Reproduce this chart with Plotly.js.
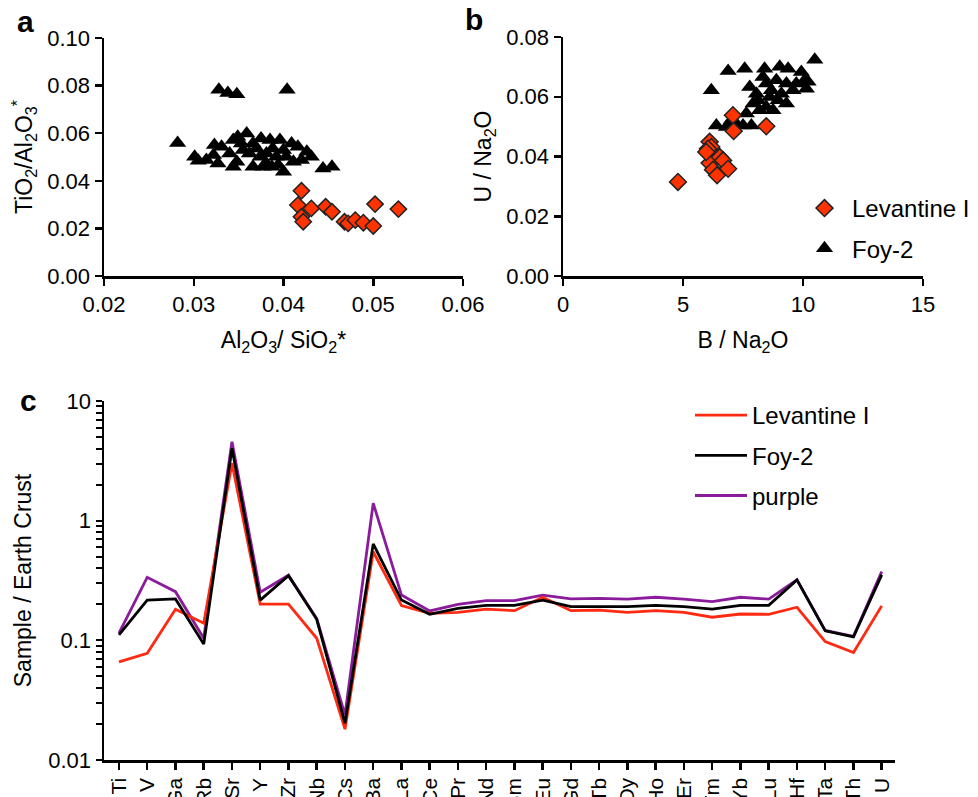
<!DOCTYPE html>
<html>
<head>
<meta charset="utf-8">
<script src="https://cdn.plot.ly/plotly-3.0.1.min.js"></script>
<style>html,body{margin:0;padding:0;background:#fff;}#chart{width:978px;height:797px;}</style>
</head>
<body>
<div id="chart"></div>
<script>
// Panel a: Al2O3/SiO2* vs TiO2/Al2O3*
const levA_x = [0.0420,0.0416,0.0431,0.0420,0.0422,0.0447,0.0454,0.0468,0.0472,0.0480,0.0489,0.0500,0.0502,0.0528];
const levA_y = [0.0358,0.0298,0.0284,0.0249,0.0228,0.0291,0.0270,0.0228,0.0221,0.0235,0.0224,0.0210,0.0302,0.0281];
const foyA_x = [0.0328,0.0338,0.0348,0.0404,0.0282,0.0301,0.0305,0.0323,0.0331,0.0322,0.0327,0.0344,0.0349,0.0359,0.0348,0.0340,0.0366,0.0366,0.0375,0.0377,0.0385,0.0387,0.0396,0.0400,0.0409,0.0416,0.0426,0.0431,0.0420,0.0444,0.0454,0.0362,0.0374,0.0381,0.0392,0.0403,0.0388,0.0355,0.0370,0.0400,0.0411,0.0314,0.0344,0.0353,0.0381,0.0394];
const foyA_y = [0.0783,0.0769,0.0764,0.0783,0.0559,0.0501,0.0484,0.0550,0.0543,0.0508,0.0473,0.0571,0.0585,0.0599,0.0480,0.0515,0.0459,0.0557,0.0578,0.0459,0.0571,0.0459,0.0571,0.0438,0.0557,0.0543,0.0522,0.0501,0.0487,0.0452,0.0459,0.0515,0.0501,0.0515,0.0501,0.0501,0.0536,0.0529,0.0536,0.0529,0.0480,0.0487,0.0459,0.0557,0.0473,0.0466];

// Panel b: B/Na2O vs U/Na2O
const levB_x = [4.79,7.08,7.11,8.47,6.11,6.18,6.04,6.11,6.53,6.67,6.25,6.42,6.88,5.97];
const levB_y = [0.0315,0.0538,0.0485,0.0501,0.0449,0.0432,0.0426,0.0378,0.0398,0.0387,0.0356,0.0337,0.0359,0.0415];
const foyB_x = [6.18,6.88,7.57,10.49,8.40,9.03,9.38,9.93,10.07,10.14,6.39,6.81,7.50,7.85,7.78,8.06,7.92,8.19,8.47,8.61,8.89,8.96,9.31,9.31,9.58,8.47,8.75,7.64,8.33,9.10,7.22,8.13,8.68,9.72,10.21,7.01];
const foyB_y = [0.0622,0.0686,0.0694,0.0724,0.0694,0.0700,0.0694,0.0683,0.0655,0.0627,0.0504,0.0499,0.0504,0.0504,0.0633,0.0610,0.0577,0.0555,0.0644,0.0599,0.0655,0.0588,0.0644,0.0577,0.0622,0.0566,0.0555,0.0544,0.0666,0.0610,0.0510,0.0588,0.0622,0.0644,0.0650,0.0521];

// Panel c: Sample / Earth Crust
const elements = ["Ti","V","Ga","Rb","Sr","Y","Zr","Nb","Cs","Ba","La","Ce","Pr","Nd","Sm","Eu","Gd","Tb","Dy","Ho","Er","Tm","Yb","Lu","Hf","Ta","Th","U"];
const levC = [0.066,0.078,0.182,0.139,3.02,0.201,0.201,0.104,0.0181,0.55,0.195,0.168,0.171,0.182,0.177,0.229,0.177,0.179,0.171,0.177,0.171,0.156,0.166,0.165,0.189,0.0977,0.079,0.194];
const foyC = [0.111,0.217,0.222,0.093,4.03,0.217,0.347,0.150,0.0203,0.64,0.217,0.165,0.185,0.196,0.196,0.217,0.191,0.191,0.191,0.196,0.191,0.182,0.196,0.196,0.32,0.120,0.107,0.352];
const purC = [0.115,0.336,0.255,0.104,4.57,0.252,0.35,0.152,0.0238,1.40,0.239,0.176,0.200,0.215,0.215,0.239,0.222,0.224,0.221,0.229,0.221,0.211,0.229,0.221,0.32,0.121,0.108,0.375];
// log-axis ticks: labelled decades plus unlabelled intermediate ticks
const logTicks = [0.01,0.02,0.03,0.04,0.05,0.06,0.07,0.08,0.09,0.1,0.2,0.3,0.4,0.5,0.6,0.7,0.8,0.9,1,2,3,4,5,6,7,8,9,10];
const logTickText = ["0.01","","","","","","","","","0.1","","","","","","","","","1","","","","","","","","","10"];

const FONT = "Liberation Sans, Arial, Helvetica, sans-serif";
const RED = "#ff3300";
const LINE_RED = "#ff2a12";
const PURPLE = "#8a1c9c";
const W = 978, H = 797;
const fx = p => p / W;
const fy = p => 1 - p / H;

const axisBase = {
  showline: true, linecolor: "black", linewidth: 2.5, mirror: false,
  ticks: "outside", ticklen: 7, tickwidth: 2.5, tickcolor: "black",
  showgrid: false, zeroline: false,
  tickfont: {family: FONT, size: 22, color: "black"}
};
function ax(extra) { return Object.assign(JSON.parse(JSON.stringify(axisBase)), extra); }
const tfont = {family: FONT, size: 23, color: "black"};

const traces = [
  {x: foyA_x, y: foyA_y, type: "scatter", mode: "markers", xaxis: "x", yaxis: "y", marker: {symbol: "triangle-up", size: 15, color: "black"}, showlegend: false, name: "Foy-2"},
  {x: levA_x, y: levA_y, type: "scatter", mode: "markers", xaxis: "x", yaxis: "y", marker: {symbol: "diamond", size: 12.5, color: RED, line: {color: "#222", width: 1.5}}, showlegend: false, name: "Levantine I"},
  {x: foyB_x, y: foyB_y, type: "scatter", mode: "markers", xaxis: "x2", yaxis: "y2", marker: {symbol: "triangle-up", size: 15, color: "black"}, name: "Foy-2", legend: "legend", legendrank: 2, legendgroup: "bf"},
  {x: levB_x, y: levB_y, type: "scatter", mode: "markers", xaxis: "x2", yaxis: "y2", marker: {symbol: "diamond", size: 13, color: RED, line: {color: "#222", width: 1.5}}, name: "Levantine I", legend: "legend", legendrank: 1, legendgroup: "bl"},
  {x: elements, y: purC, type: "scatter", mode: "lines", xaxis: "x3", yaxis: "y3", line: {color: PURPLE, width: 2.8}, name: "purple", legend: "legend2", legendrank: 3, legendgroup: "cp"},
  {x: elements, y: levC, type: "scatter", mode: "lines", xaxis: "x3", yaxis: "y3", line: {color: LINE_RED, width: 2.8}, name: "Levantine I", legend: "legend2", legendrank: 1, legendgroup: "cl"},
  {x: elements, y: foyC, type: "scatter", mode: "lines", xaxis: "x3", yaxis: "y3", line: {color: "black", width: 2.8}, name: "Foy-2", legend: "legend2", legendrank: 2, legendgroup: "cf"}
];

const layout = {
  width: W, height: H,
  margin: {l: 0, r: 0, t: 0, b: 0},
  paper_bgcolor: "white", plot_bgcolor: "white",
  font: {family: FONT, color: "black"},
  showlegend: true,
  xaxis: ax({domain: [fx(104), fx(463)], range: [0.02, 0.06], tickvals: [0.02,0.03,0.04,0.05,0.06], tickformat: ".2f", anchor: "y",
    title: {text: "Al<sub>2</sub>O<sub>3</sub>/ SiO<sub>2</sub>*", standoff: 16, font: tfont}}),
  yaxis: ax({domain: [fy(276), fy(38)], range: [0, 0.10], tickvals: [0,0.02,0.04,0.06,0.08,0.10], tickformat: ".2f", anchor: "x",
    title: {text: "TiO<sub>2</sub>/Al<sub>2</sub>O<sub>3</sub><sup>*</sup>", standoff: 8, font: tfont}}),
  xaxis2: ax({domain: [fx(563), fx(923)], range: [0, 15], tickvals: [0,5,10,15], anchor: "y2",
    title: {text: "B / Na<sub>2</sub>O", standoff: 16, font: tfont}}),
  yaxis2: ax({domain: [fy(276), fy(37)], range: [0, 0.08], tickvals: [0,0.02,0.04,0.06,0.08], tickformat: ".2f", anchor: "x2",
    title: {text: "U / Na<sub>2</sub>O", standoff: 8, font: tfont}}),
  xaxis3: ax({domain: [fx(104), fx(895)], type: "category", range: [-0.53, 27.47], tickangle: -90, anchor: "y3",
    tickfont: {family: FONT, size: 21, color: "black"}}),
  yaxis3: ax({domain: [fy(760), fy(401)], type: "log", range: [-2, 1], tickmode: "array", tickvals: logTicks, ticktext: logTickText, anchor: "x3",
    ticklen: 6, tickwidth: 2,
    title: {text: "Sample / Earth Crust", standoff: 10, font: tfont}}),
  legend: {x: fx(797), y: fy(186), xanchor: "left", yanchor: "top", bgcolor: "rgba(0,0,0,0)",
    font: {family: FONT, size: 24, color: "black"}, tracegroupgap: 6, itemwidth: 45},
  legend2: {x: fx(690), y: fy(393), xanchor: "left", yanchor: "top", bgcolor: "rgba(0,0,0,0)",
    font: {family: FONT, size: 24, color: "black"}, tracegroupgap: 6, itemwidth: 52},
  annotations: [
    {text: "<b>a</b>", x: fx(25), y: fy(21), xref: "paper", yref: "paper", xanchor: "center", yanchor: "middle", showarrow: false, font: {family: FONT, size: 30, color: "black"}},
    {text: "<b>b</b>", x: fx(474), y: fy(19), xref: "paper", yref: "paper", xanchor: "center", yanchor: "middle", showarrow: false, font: {family: FONT, size: 30, color: "black"}},
    {text: "<b>c</b>", x: fx(28), y: fy(400), xref: "paper", yref: "paper", xanchor: "center", yanchor: "middle", showarrow: false, font: {family: FONT, size: 30, color: "black"}}
  ]
};

Plotly.newPlot("chart", traces, layout, {displayModeBar: false, staticPlot: true});
</script>
</body>
</html>
